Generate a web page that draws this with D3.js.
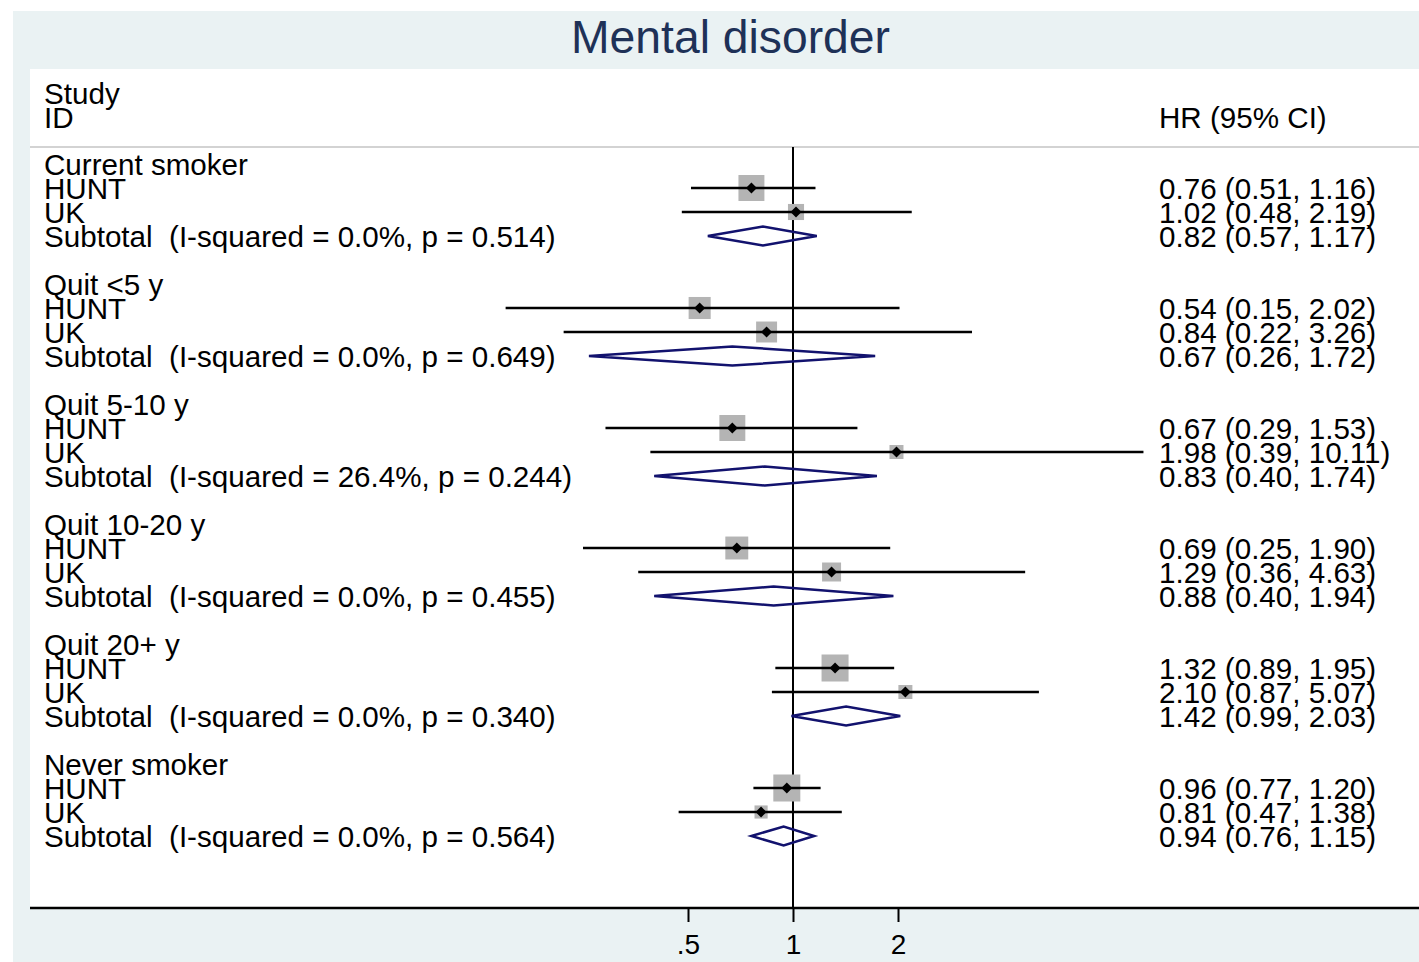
<!DOCTYPE html>
<html>
<head>
<meta charset="utf-8">
<script src="https://cdn.jsdelivr.net/npm/d3@7"></script>
<style>
  html, body { margin: 0; padding: 0; background: #fff; }
  text { font-family: "Liberation Sans", Arial, Helvetica, sans-serif; white-space: pre; }
</style>
</head>
<body>
<div id="chart"></div>
<script>
// data
const groups = ["Current smoker", "Quit <5 y", "Quit 5-10 y", "Quit 10-20 y", "Quit 20+ y", "Never smoker"];
const studies = ["HUNT", "UK"];

const studyHR = [[0.76, 1.02], [0.54, 0.84], [0.67, 1.98], [0.69, 1.29], [1.32, 2.10], [0.96, 0.81]];
const studyLo = [[0.51, 0.48], [0.15, 0.22], [0.29, 0.39], [0.25, 0.36], [0.89, 0.87], [0.77, 0.47]];
const studyHi = [[1.16, 2.19], [2.02, 3.26], [1.53, 10.11], [1.90, 4.63], [1.95, 5.07], [1.20, 1.38]];
const studyWeight = [[86, 33], [62, 56], [86, 25], [67, 46], [93, 25], [93, 22]];

const subHR = [0.82, 0.67, 0.83, 0.88, 1.42, 0.94];
const subLo = [0.57, 0.26, 0.40, 0.40, 0.99, 0.76];
const subHi = [1.17, 1.72, 1.74, 1.94, 2.03, 1.15];
const iSquared = [0.0, 0.0, 26.4, 0.0, 0.0, 0.0];
const pHet = [0.514, 0.649, 0.244, 0.455, 0.340, 0.564];

const xTicks = [0.5, 1, 2];
const xTickLabels = [".5", "1", "2"];

const width = 1419, height = 962;
const fs = 29.6;
const f2 = d3.format(".2f");

const svg = d3.select("#chart").append("svg")
    .attr("width", width)
    .attr("height", height);

// backgrounds
svg.append("rect").attr("x", 13).attr("y", 11).attr("width", width - 13).attr("height", height - 11)
    .attr("fill", "#eaf2f3");
svg.append("rect").attr("x", 30).attr("y", 69).attr("width", width - 30).attr("height", 908 - 69)
    .attr("fill", "#fff");

svg.append("text")
    .attr("x", 730.5).attr("y", 53)
    .attr("text-anchor", "middle")
    .attr("font-size", 46.3)
    .attr("fill", "#1e3157")
    .text("Mental disorder");

const x = d3.scaleLog().base(2).domain([0.5, 2]).range([688, 898]);
const y = d3.scaleLinear().domain([0, 1]).range([164, 188]);
const boxSize = d3.scaleSqrt().domain([0, 100]).range([0, 28]);

// header
const header = svg.append("g").attr("font-size", fs).attr("fill", "#000");
header.append("text").attr("x", 44).attr("y", 104).text("Study");
header.append("text").attr("x", 44).attr("y", 128).text("ID");
header.append("text").attr("x", 1159).attr("y", 128).text("HR (95% CI)");

svg.append("line").attr("x1", 30).attr("x2", width).attr("y1", 147).attr("y2", 147)
    .attr("stroke", "#c4c4c4").attr("stroke-width", 1.5);

// build rows
const rows = [];
groups.forEach((gname, g) => {
    const base = g * 5;
    rows.push({ type: "label", idx: base, label: gname });
    studies.forEach((s, i) => {
        rows.push({
            type: "study", idx: base + 1 + i, label: s,
            hr: studyHR[g][i], lo: studyLo[g][i], hi: studyHi[g][i], w: studyWeight[g][i]
        });
    });
    rows.push({
        type: "subtotal", idx: base + 3,
        label: "Subtotal  (I-squared = " + d3.format(".1f")(iSquared[g]) + "%, p = " + d3.format(".3f")(pHet[g]) + ")",
        hr: subHR[g], lo: subLo[g], hi: subHi[g]
    });
});

// null line
svg.append("line").attr("x1", x(1)).attr("x2", x(1)).attr("y1", 147).attr("y2", 908)
    .attr("stroke", "#000").attr("stroke-width", 2);

const plot = svg.append("g");

const studyRows = rows.filter(d => d.type === "study");
plot.selectAll("rect.box").data(studyRows).enter().append("rect")
    .attr("class", "box")
    .attr("x", d => x(d.hr) - boxSize(d.w) / 2)
    .attr("y", d => y(d.idx) - boxSize(d.w) / 2)
    .attr("width", d => boxSize(d.w))
    .attr("height", d => boxSize(d.w))
    .attr("fill", "#b4b4b4");

plot.selectAll("line.ci").data(studyRows).enter().append("line")
    .attr("class", "ci")
    .attr("x1", d => x(d.lo)).attr("x2", d => x(d.hi))
    .attr("y1", d => y(d.idx)).attr("y2", d => y(d.idx))
    .attr("stroke", "#000").attr("stroke-width", 2.5);

plot.selectAll("path.pt").data(studyRows).enter().append("path")
    .attr("class", "pt")
    .attr("d", d => {
        const cx = x(d.hr), cy = y(d.idx), r = 5.5;
        return `M${cx},${cy - r}L${cx + r},${cy}L${cx},${cy + r}L${cx - r},${cy}Z`;
    })
    .attr("fill", "#000");

const subRows = rows.filter(d => d.type === "subtotal");
plot.selectAll("path.diamond").data(subRows).enter().append("path")
    .attr("class", "diamond")
    .attr("d", d => {
        const cy = y(d.idx), h = 9.5;
        return `M${x(d.lo)},${cy}L${x(d.hr)},${cy - h}L${x(d.hi)},${cy}L${x(d.hr)},${cy + h}Z`;
    })
    .attr("fill", "none")
    .attr("stroke", "#12126e")
    .attr("stroke-width", 2.5);

// left labels
svg.append("g").attr("font-size", fs)
    .selectAll("text").data(rows).enter().append("text")
    .attr("x", 44)
    .attr("y", d => y(d.idx) + 11)
    .text(d => d.label);

// right labels
svg.append("g").attr("font-size", fs)
    .selectAll("text").data(rows.filter(d => d.type !== "label")).enter().append("text")
    .attr("x", 1159)
    .attr("y", d => y(d.idx) + 11)
    .text(d => `${f2(d.hr)} (${f2(d.lo)}, ${f2(d.hi)})`);

// x axis
const axis = d3.axisBottom(x)
    .tickValues(xTicks)
    .tickFormat((d, i) => xTickLabels[i])
    .tickSize(14)
    .tickPadding(12);

const ax = svg.append("g").attr("transform", "translate(0,908)").call(axis);
ax.select(".domain").remove();
ax.selectAll(".tick line").attr("stroke", "#000").attr("stroke-width", 2);
ax.selectAll(".tick text").attr("font-size", 28).attr("fill", "#000")
    .attr("font-family", "'Liberation Sans', Arial, sans-serif");
svg.append("line").attr("x1", 30).attr("x2", width).attr("y1", 908).attr("y2", 908)
    .attr("stroke", "#000").attr("stroke-width", 2.5);
</script>
</body>
</html>
